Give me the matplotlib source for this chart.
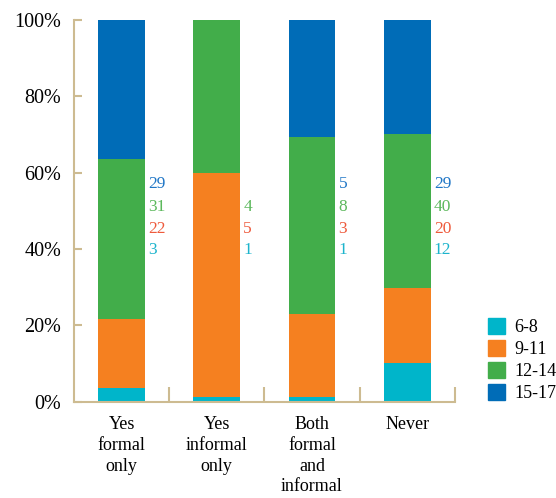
import numpy as np
import matplotlib.pyplot as plt
from matplotlib.patches import Patch

plt.rcParams['font.family'] = ['Liberation Serif', 'DejaVu Serif']

categories = ['Yes\nformal\nonly', 'Yes\ninformal\nonly', 'Both\nformal\nand\ninformal', 'Never']
age_groups = ['6-8', '9-11', '12-14', '15-17']

# percentage shares
pct_6_8 = [3.7, 1.3, 1.3, 10.2]
pct_9_11 = [18.0, 58.7, 21.8, 19.7]
pct_12_14 = [41.9, 40.0, 46.3, 40.3]
pct_15_17 = [36.4, 0.0, 30.6, 29.8]

# counts printed next to the bars (None = not shown)
cnt_6_8 = [3, 1, 1, 12]
cnt_9_11 = [22, 5, 3, 20]
cnt_12_14 = [31, 4, 8, 40]
cnt_15_17 = [29, None, 5, 29]

bar_colors = ['#00b5ca', '#f58020', '#42ad4a', '#006cb7']
text_colors = ['#1cb4cc', '#ee5a3c', '#5cb85c', '#1f76c6']
axis_color = '#cdbb91'

fig = plt.figure(figsize=(5.56, 4.98), dpi=100)
ax = fig.add_axes([0.133, 0.193, 0.685, 0.767])

x = np.arange(len(categories))
series = [pct_6_8, pct_9_11, pct_12_14, pct_15_17]
bottom = np.zeros(len(categories))
for vals, col, lab in zip(series, bar_colors, age_groups):
    ax.bar(x, vals, width=0.49, bottom=bottom, color=col, label=lab, zorder=2)
    bottom += np.array(vals)

# count labels, stacked top-down: 15-17, 12-14, 9-11, 6-8
rows_y = [57.1, 51.0, 45.3, 39.8]
counts = [cnt_15_17, cnt_12_14, cnt_9_11, cnt_6_8]
row_cols = [text_colors[3], text_colors[2], text_colors[1], text_colors[0]]
for ry, cnt, col in zip(rows_y, counts, row_cols):
    for i, c in enumerate(cnt):
        if c is None:
            continue
        ax.text(i + 0.28, ry, str(c), color=col, fontsize=12.5,
                ha='left', va='center')

ax.set_xlim(-0.5, 3.5)
ax.set_ylim(0, 100)
ax.set_yticks(np.arange(0, 101, 20))
ax.set_yticklabels([f'{v}%' for v in range(0, 101, 20)], fontsize=14.5)
ax.set_xticks(x)
ax.set_xticklabels(categories, fontsize=13, linespacing=1.3, va='top')
ax.set_xticks(x + 0.5, minor=True)

ax.tick_params(axis='y', direction='in', length=6, width=1.5, color=axis_color, pad=9)
ax.tick_params(axis='x', which='major', length=0, pad=10)
ax.tick_params(axis='x', which='minor', direction='in', length=11, width=1.5, color=axis_color)

for s in ['top', 'right']:
    ax.spines[s].set_visible(False)
for s in ['left', 'bottom']:
    ax.spines[s].set_color(axis_color)
    ax.spines[s].set_linewidth(1.5)

handles = [Patch(color=c, label=l) for c, l in zip(bar_colors, age_groups)]
fig.legend(handles=handles, loc='upper left', bbox_to_anchor=(0.865, 0.375),
           frameon=False, fontsize=13, handlelength=0.95, handleheight=0.95,
           handletextpad=0.5, labelspacing=0.22, borderaxespad=0)

fig.savefig('out.png', dpi=100)
